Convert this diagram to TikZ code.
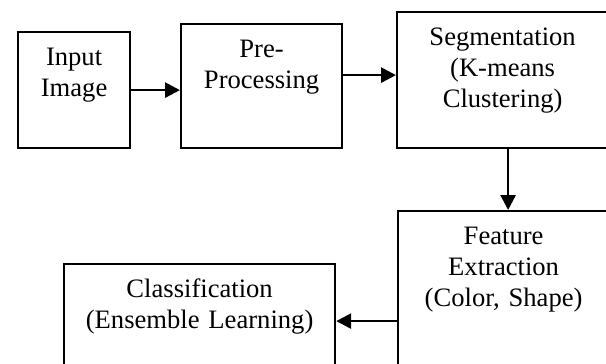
\documentclass[tikz,border=0pt]{standalone}
\usepackage{fontspec}
\setmainfont{Liberation Serif}
\usetikzlibrary{arrows.meta}

\begin{document}
\begin{tikzpicture}[x=.5pt,y=-.5pt,
  box/.style={draw,line width=1.1pt,anchor=north west,align=center,inner xsep=0pt,inner ysep=0pt,
    text height=16.75pt,font=\fontsize{13.3}{15.5}\selectfont},
  arr/.style={line width=1.3pt,-{Triangle[length=7.5pt,width=7.5pt]}}]
\useasboundingbox (0,0) rectangle (606,364);
\clip (0,0) rectangle (606,364);

%\draw[help lines] (0,0) grid[step=50] (606,364);
\node[box,text width=56pt,text depth=41.25pt] (input) at (17,31) {Input\\Image};
\node[box,text width=80.5pt,text depth=45.25pt] (prep) at (180,23) {Pre-\\Processing};
\node[box,text width=105.5pt,text depth=51.25pt] (seg) at (396,11) {Segmentation\\(K-means\\Clustering)};
\node[box,text width=105.5pt,text depth=93.25pt] (feat) at (397,210) {Feature\\Extraction\\(Color, Shape)};
\node[box,text width=135.5pt,text depth=40.25pt] (cls) at (63,263) {Classification\\(Ensemble Learning)};

\draw[arr] (input.east) -- (input.east -| prep.west);
\draw[arr] ([yshift=5.5pt]prep.east) -- ([yshift=5.5pt]prep.east -| seg.west);
\draw[arr] ([xshift=2.75pt]seg.south) -- ([xshift=2.75pt]seg.south |- feat.north);
\draw[arr] (feat.west |- cls.east) -- (cls.east);

\end{tikzpicture}
\end{document}
